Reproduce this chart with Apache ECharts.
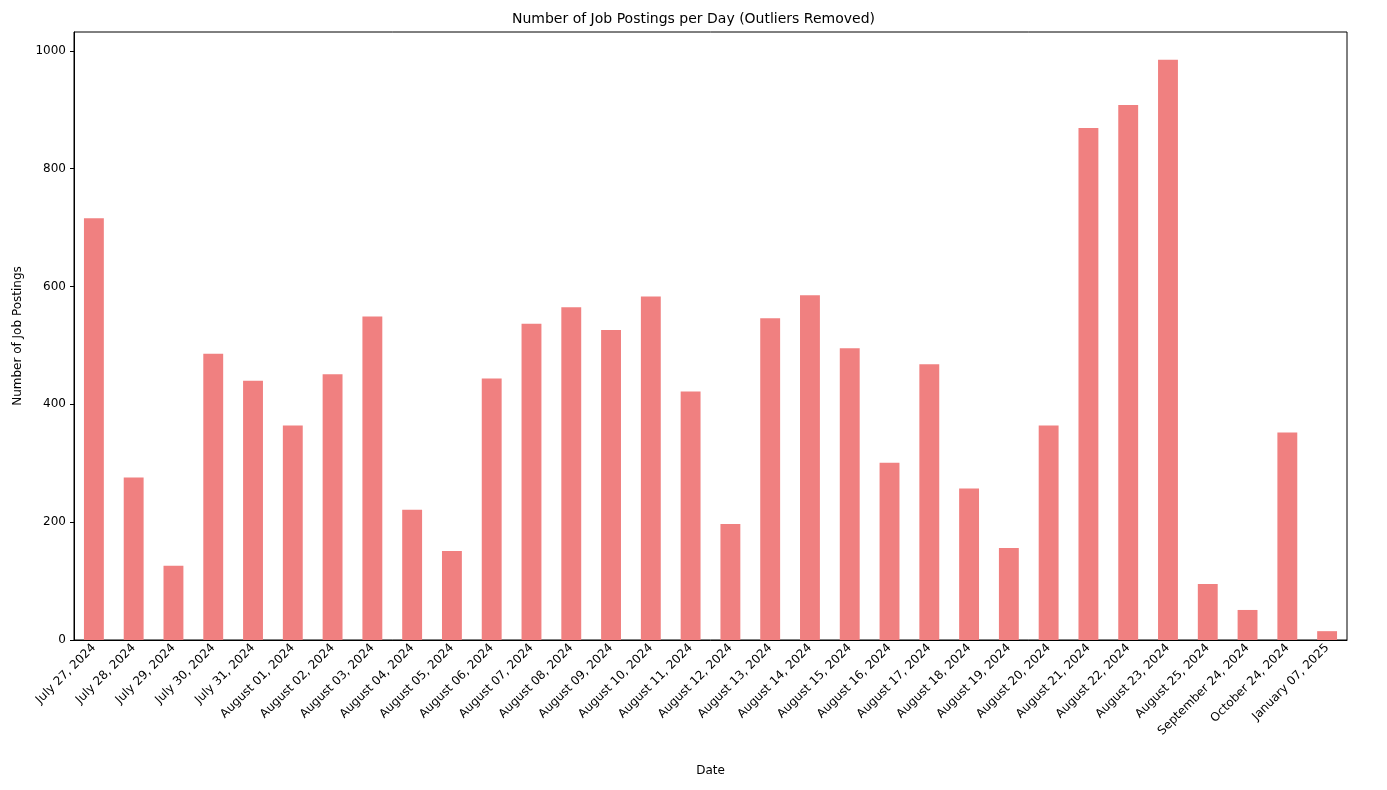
<!DOCTYPE html>
<html>
<head>
<meta charset="utf-8">
<script src="https://cdn.jsdelivr.net/npm/echarts@6/dist/echarts.min.js"></script>
<style>html,body{margin:0;background:#fff}#chart{width:1387px;height:790px}</style>
</head>
<body>
<div id="chart"></div>
<script>
// data
const dates = ['July 27, 2024','July 28, 2024','July 29, 2024','July 30, 2024','July 31, 2024',
  'August 01, 2024','August 02, 2024','August 03, 2024','August 04, 2024','August 05, 2024',
  'August 06, 2024','August 07, 2024','August 08, 2024','August 09, 2024','August 10, 2024',
  'August 11, 2024','August 12, 2024','August 13, 2024','August 14, 2024','August 15, 2024',
  'August 16, 2024','August 17, 2024','August 18, 2024','August 19, 2024','August 20, 2024',
  'August 21, 2024','August 22, 2024','August 23, 2024','August 25, 2024','September 24, 2024',
  'October 24, 2024','January 07, 2025']
const postings = [716, 276, 126, 486, 440, 364, 451, 549, 221, 151,
  444, 537, 565, 526, 583, 422, 197, 546, 585, 495,
  301, 468, 257, 156, 364, 869, 908, 985, 95, 51, 352, 15]
const yTicks = [0, 200, 400, 600, 800, 1000]

const chart = echarts.init(document.getElementById('chart'))
const font = 'DejaVu Sans'
chart.setOption({
  animation: false,
  textStyle: { fontFamily: font },
  title: {
    text: 'Number of Job Postings per Day (Outliers Removed)',
    left: 'center', top: 7,
    textStyle: { fontFamily: font, fontSize: 14, fontWeight: 'normal', color: '#000' }
  },
  grid: { left: 74, right: 40, top: 32, bottom: 150, show: true, borderColor: '#000', borderWidth: 1 },
  xAxis: {
    type: 'category',
    data: dates,
    name: 'Date', nameLocation: 'middle', nameGap: 125,
    nameTextStyle: { fontFamily: font, fontSize: 12, color: '#000' },
    axisLine: { lineStyle: { color: '#000' } },
    axisTick: { alignWithLabel: true, length: 4, lineStyle: { color: '#000' } },
    axisLabel: { rotate: 45, interval: 0, fontSize: 12, color: '#000', fontFamily: font, margin: 6 }
  },
  yAxis: {
    type: 'value',
    min: 0, max: 1032, interval: 200,
    name: 'Number of Job Postings', nameLocation: 'middle', nameGap: 50,
    nameTextStyle: { fontFamily: font, fontSize: 12, color: '#000' },
    axisLine: { show: true, lineStyle: { color: '#000' } },
    axisTick: { show: true, length: 4, lineStyle: { color: '#000' } },
    splitLine: { show: false },
    axisLabel: {
      fontSize: 12, color: '#000', fontFamily: font,
      formatter: v => yTicks.includes(v) ? String(v) : '',
      showMaxLabel: false
    }
  },
  series: [{
    type: 'bar',
    data: postings,
    barWidth: '50%',
    itemStyle: { color: '#f08080' }
  }]
})
</script>
</body>
</html>
